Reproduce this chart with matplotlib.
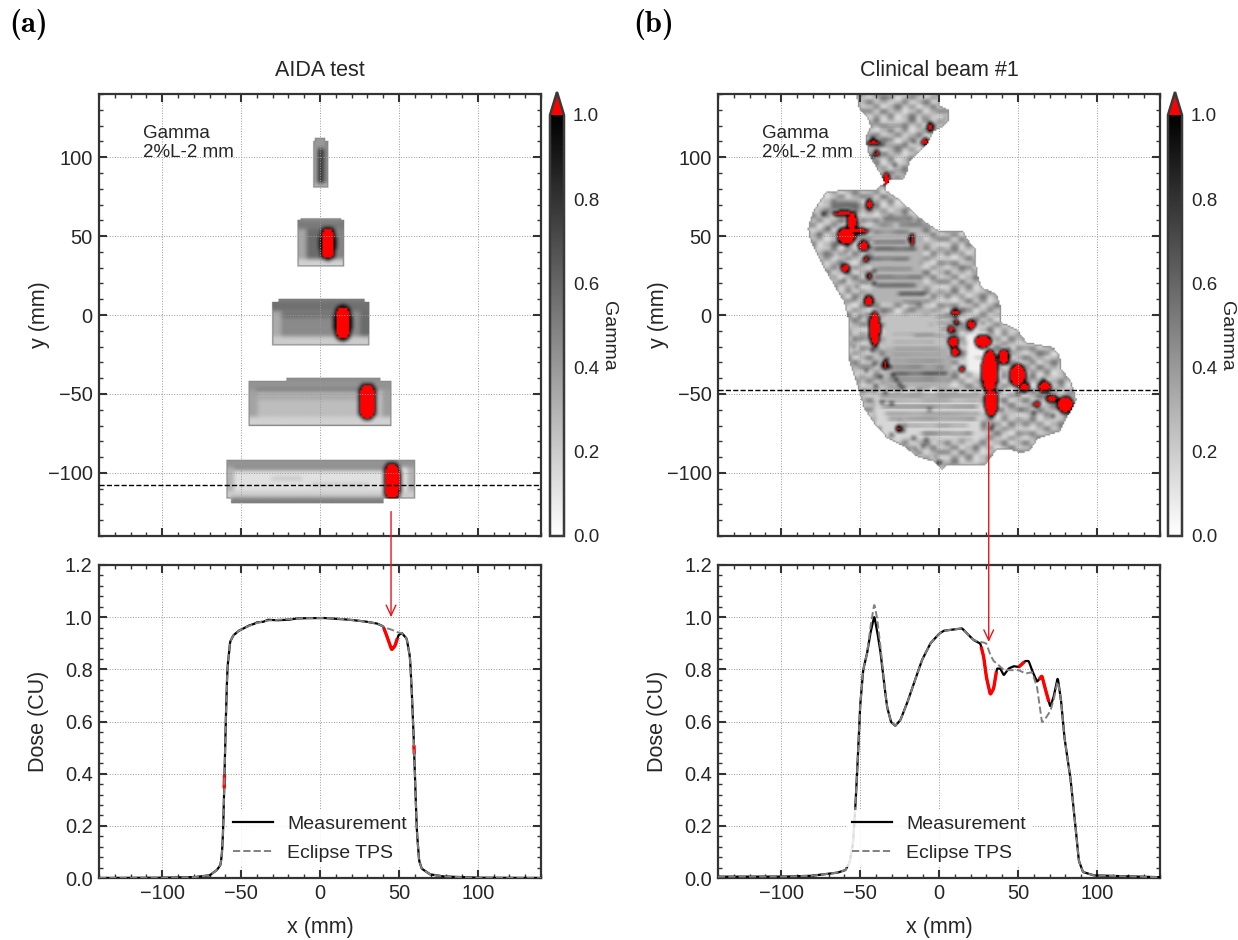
import numpy as np
import matplotlib
matplotlib.use('Agg')
import matplotlib.pyplot as plt
from matplotlib.path import Path
from matplotlib.ticker import MultipleLocator

plt.rcParams['font.family'] = ['Liberation Sans', 'DejaVu Sans']
TXT = '#262626'
SP = '#333333'

# ---------- profile data ----------
a_x = [-140,-100,-80,-70,-65.4,-63,-62,-61.2,-60.6,-59.7,-58.7,-57,-54.9,-51.7,-48,-45,-42.2,-40,-36,-33,-27.4,-20,-15,-10.6,2,10,19,28,35.9,40,42.2,45.4,47.5,49.6,51.7,54.9,57,58,59.1,60.2,61.2,62.7,64.4,69.7,78,99,140]
a_meas = [0,.001,.003,.01,.03,.05,.1,.21,.37,.60,.80,.905,.93,.947,.958,.968,.973,.98,.982,.99,.988,.99,.995,.996,.997,.994,.99,.984,.976,.965,.93,.875,.89,.93,.94,.918,.848,.733,.58,.387,.196,.068,.036,.014,.006,.001,0]
a_tps = [0,.001,.003,.01,.03,.05,.1,.21,.37,.60,.80,.905,.93,.947,.958,.966,.973,.978,.984,.987,.99,.992,.995,.996,.997,.995,.99,.984,.976,.965,.958,.952,.946,.941,.94,.918,.848,.733,.58,.387,.196,.068,.036,.014,.006,.001,0]
a_red = [(40.3,49.0),(-60.75,-60.5),(59.4,59.75)]

b_x = [-140,-100,-81.5,-64.6,-59.3,-56.6,-54.5,-53,-51.5,-50.2,-48.1,-45.6,-43.5,-41,-39.3,-37.2,-35,-32.9,-30.4,-27.7,-24.5,-20.3,-16,-10.8,-5.5,-0.2,3,9.3,14.6,18.8,22,26.2,28.3,30,32.5,34.6,36.7,38.8,41,44.1,47.3,50.5,54.7,56.8,58.9,62.1,65.2,67.3,70.5,72.6,75.2,77.3,79.4,83.2,86.3,88.5,91.2,98,140]
b_meas = [.005,.005,.008,.02,.03,.06,.13,.27,.45,.64,.795,.86,.937,1.005,.95,.873,.758,.656,.598,.583,.605,.669,.745,.835,.899,.935,.948,.953,.957,.931,.912,.899,.848,.771,.703,.726,.803,.803,.777,.803,.812,.809,.832,.832,.797,.752,.775,.726,.656,.694,.769,.682,.541,.387,.208,.068,.023,.01,.003]
b_tps = [.005,.005,.008,.02,.03,.06,.13,.27,.45,.64,.795,.86,.96,1.052,1.0,.895,.758,.656,.598,.583,.605,.669,.745,.835,.899,.935,.948,.953,.957,.931,.912,.905,.903,.899,.855,.832,.822,.81,.797,.797,.797,.797,.784,.786,.79,.733,.596,.61,.64,.682,.758,.682,.541,.387,.208,.068,.023,.01,.003]
b_red = [(26.6,36.4),(50.2,54.2),(63.2,69.6)]

# ---------- AIDA field data ----------
f_x0 = [-4.2,-14.4,-30,-45,-59]
f_x1 = [5.3,15.4,31.2,45,60]
f_y0 = [81,30.4,-19.6,-70,-116]
f_y1 = [110,60,8.5,-41.6,-91.6]
f_core = [.78,.58,.46,.26,.12]
f_top = [.5,.52,.56,.42,.42]
f_bot = [.3,.18,.2,.18,.2]
f_left = [.35,.35,.33,.36,.3]
f_right = [.45,.48,.58,.38,.3]
f_band = [2.5,5.5,6,6,5]
# extra strips: x0, x1, y0, y1, gamma
s_x0 = [-12,-26,-21,-56,-3,-40,-54,-24,-40,-30,-5]
s_x1 = [13,28,38,40,3,36,40,10,30,-12,30]
s_y0 = [60,8.5,-41.6,-119.5,106,-48.5,-98.5,-1,-53,-104,-108]
s_y1 = [61,10,-40,-116,112,-46.5,-96.5,1,-51,-103,-107]
s_val = [.45,.5,.45,.5,.4,.52,.46,.56,.34,.24,.22]
# red areas
ar_x = [5,14.5,30,45.7,3]
ar_y = [45.4,-5,-54.8,-105.3,95]
ar_rx = [3.9,4.4,4.7,4.5,0]
ar_ry = [9.3,10,10.3,10.7,0]

# ---------- clinical beam data ----------
out_x = [-53.6,-53.6,-0.8,0.8,6.3,6.8,3,-3.4,-7.6,-12.9,-18.2,-20.3,-22.4,-30.8,-33.4,-34,-26.6,-18.2,-9.7,-0.2,15.6,18.8,23.6,24.1,27.2,36.7,39.3,39.5,49.4,55.7,72.6,76.8,77.9,84.2,87.4,81,76.8,63.1,57.8,52.6,45.2,36.7,29.3,5.1,1.9,-3.4,-13.9,-22.4,-32.9,-41.4,-47.7,-51.9,-57.2,-57.8,-60.4,-66.7,-74.1,-81.5,-83.2,-80.4,-72,-60.4,-39.3,-34.6,-41.4,-45.6,-46.7,-43.5,-45.6,-50.9]
out_y = [145,139.5,145,132.8,130.3,123.3,119,115.9,107.5,102.2,96.9,89.5,85.7,85.3,82.1,79.6,74.7,67.3,60,53.6,53.2,47.3,42,27.2,17.7,13.5,6.1,-4.4,-8.7,-17.1,-20.3,-25.5,-34,-42.4,-54,-65.7,-74,-78.3,-85.7,-87.8,-85.7,-85.7,-95.2,-95.2,-98.4,-93.1,-89.9,-83.6,-78.3,-68.8,-59.3,-44.5,-28.7,-2.3,8.2,18.8,31.5,46.2,54.7,65.2,77.9,79.6,80,84.2,95.8,103.2,113.8,119,125.4,130.7]
mottle = [[.05,.30,.10,.42,.02,.18,.46,.08,.26,.12,.00],
          [.38,.06,.46,.14,.24,.02,.12,.40,.04,.22,.42],
          [.12,.40,.00,.20,.48,.10,.30,.00,.18,.44,.08],
          [.44,.10,.24,.06,.14,.42,.04,.22,.48,.02,.20],
          [.02,.20,.48,.36,.00,.16,.40,.12,.06,.34,.14],
          [.30,.42,.08,.12,.40,.06,.20,.46,.10,.00,.40],
          [.08,.00,.18,.44,.10,.34,.02,.14,.36,.20,.04],
          [.40,.14,.32,.02,.22,.46,.10,.30,.00,.42,.16],
          [.16,.46,.04,.20,.08,.12,.44,.06,.38,.10,.30]]
# calm zones: x0, x1, y0, y1, gamma
cz_x0 = [-34,-34,18,-40,-42]
cz_x1 = [6,4,32,26,-12]
cz_y0 = [-45,-20,-36,-78,8]
cz_y1 = [-18,0,-12,-49,56]
cz_g = [.32,.24,.06,.16,.3]
# horizontal streaks: x0, x1, y, half thickness, gamma
st_x0 = [-73,-46,-46,-46,-46,-46,-46,-44,-30,-28, -26,-34,-34,-34,-34,-34,-34,-34,-36,-42,-42,-40,-38,-36,-30,-15,-48,-6,20,40,50,-3,-5,-10,-20,8,-18,-40,-30,60,45,-45,-45,-35,-35]
st_x1 = [-46,-14,-16,-10,-14,-12,-6,-10,-4,-6, -10,2,2,6,6,8,8,10,12,30,30,28,30,28,22,25,-30,10,30,60,72,22,9,0,8,20,6,-12,6,78,76,-18,-15,-24,-16]
st_y =  [69,52.6,46.2,42,35.7,29.3,24,18.8,13.5,8.2, 3,-12,-17,-21,-25,-29,-33,-37,-41,-51,-54,-58,-62.5,-65.7,-70,-75,-2,-1,-27,-38,-62,-9,-5,-6,-13,17,3.5,61,57,-29,-35,120,107,97,91]
st_t =  [5,1.2,1.2,1.5,1.2,1.0,1.4,1.8,1.5,1.2, 1.0,1.2,1.0,1.2,1.0,1.2,1.5,1.8,1.3,.8,.9,.8,1.0,.8,.9,1.0,1.0,1.0,1.0,1.0,1.0,1.0,1.0,1.0,.8,1.2,.8,3.5,2.5,.8,.8,1.0,1.5,1.2,1.0]
st_g =  [.75,.75,.85,.95,.9,.75,.85,.9,1.0,.8, .65,.5,.52,.55,.55,.62,.72,.85,.75,.9,.7,.95,.7,.85,.7,.85,.65,.65,.55,.55,.5,.7,.8,.7,.65,.6,.65,.7,.65,.5,.5,.65,.65,.7,.65]
# dark spots: x, y, gamma
sp_x = [-73,-62,-52,-48,-44,-43,-41,-41,-59,-68,-60,-52,-54,-63,-50,-44,-42,-54,-41,-37,-34,-29,-23,-40,-36,-34,-30,-25,-22,-16,-10,-2,0,-44,-38,-20,-8,-23,-30,15,18,28,32,34,44,50,52,60,66,72,80,-18,-8,-4,-10,-12,2,4,-42,-36,-42,-28,-16,-58,33,-26,5,10,-33,-31,-27,-25,-46,-49,-70,-65,-76,-57,22,40,58,70,-6,8,-15]
sp_y = [64,66,58,52,43,36,28,20,40,38,22,18,10,-12,-1,-3,-22,-20,-31,-39,-30,-38,-46,-45,-55,-49,-56,-66,-70,-78,-83,-90,-93.5,-60,-72,-85,-79,-73,-76,3,-8,-5,-35,-70,-22,-50,-60,-62,-41,-64,-68,49,106,118,125,101,130,125,112,108,100,95,110,70,-72,80,75,40,-28,-33,-41,-44,-35,-15,55,45,50,30,28,-60,-28,-50,-60,-84,-85]
sp_g = [1.0,.8,.8,.95,.85,.85,.8,.9,.55,.55,.6,.55,.6,.65,.65,.75,.9,.55,.75,.85,.9,.95,.85,.75,.75,.7,.7,.5,.6,.7,.7,.5,1.0,.55,.6,.65,.75,.8,.65,.75,.7,.5,.6,.8,.8,.85,.7,.85,.8,.75,.5,.85,.7,.6,.5,.8,.4,.45,.95,.85,.85,.7,.7,.5,.9,.6,.4,.5,.85,.9,.9,.85,.7,.6,.7,.75,.65,.65,.5,.6,.55,.6,.55,.5,.6]
# red blobs: x, y, rx, ry
rb_x = [-58.7,-55.1,-60,-50.9,-47.7,-44.1,-17.1,-59.3,-46.2,-44.1,-44.5,-40.7,-34,10.3,11,7.6,20.3,9.3,10.3,14.6,27.9,32.1,33.1,41,49.8,54,66.9,71.6,80,62,-25.5,-5.5,-8.7,-41.4,-39.3,-33.4]
rb_y = [50,58.9,64.2,53.2,43.7,69.9,47.9,29.8,35.3,24.5,8.9,-8.7,-31.5,1.5,-4.9,-9.3,-6.1,-17.1,-23.4,-34.4,-16.7,-36.1,-55,-26.6,-38.2,-45.6,-45.6,-53,-56.8,-56.6,-72,119,109.6,109.1,102.2,86]
rb_rx = [5,2.5,6.5,5,2.5,1.3,.9,2,1,1,2.5,2.8,1,2,1,1.5,2.2,2.5,2,1,4.5,4.5,3.5,3,4.5,2.5,3.2,3,4.5,1.5,1,1.5,1.5,3,1,1.5]
rb_ry = [5,5,1,1.2,2.5,2.5,3,2,1,1,2.5,10.5,2,1.5,1,1.5,2.2,3,2.5,1,3.5,13.5,9,4,6.5,2.5,3,1.5,4.5,1,1,2,1.5,1,1,3.5]

# ---------- image helpers ----------
gx = np.arange(-145, 145.5, 1.0)
gy = np.arange(-145, 145.5, 1.0)
XX, YY = np.meshgrid(gx, gy)

def rim(mask):
    m = mask.copy()
    for ax_, s in ((0,1),(0,-1),(1,1),(1,-1)):
        m &= np.roll(mask, s, axis=ax_)
    return mask & ~m

def blur(G, mask, n):
    k = np.ones(n)/n
    f = lambda a: np.apply_along_axis(lambda v: np.convolve(v, k, mode='same'), 1,
                                      np.apply_along_axis(lambda v: np.convolve(v, k, mode='same'), 0, a))
    num = f(np.where(mask, G, 0.0))
    den = f(mask.astype(float))
    out = np.full(G.shape, np.nan)
    out[mask] = num[mask]/den[mask]
    return out

def add_halo(G, xs, ys, rxs, rys, p, halo, level):
    for cx, cy, rx, ry in zip(xs, ys, rxs, rys):
        if rx == 0:
            continue
        dh = np.abs((XX-cx)/(rx+halo))**p + np.abs((YY-cy)/(ry+halo))**p
        G[dh < 1] = level
    return G

def add_red(G, xs, ys, rxs, rys, p):
    for cx, cy, rx, ry in zip(xs, ys, rxs, rys):
        if rx == 0:
            continue
        d = np.abs((XX-cx)/rx)**p + np.abs((YY-cy)/ry)**p
        G[d < 1] = 1.6
    return G

def aida_map():
    G = np.full(XX.shape, np.nan)
    for i in range(5):
        x0, x1, y0, y1 = f_x0[i], f_x1[i], f_y0[i], f_y1[i]
        box = (XX >= x0) & (XX <= x1) & (YY >= y0) & (YY <= y1)
        b = f_band[i]
        G[box] = f_core[i]
        G[box & (XX < x0+b)] = f_left[i]
        G[box & (XX > x1-b)] = f_right[i]
        G[box & (YY > y1-b)] = f_top[i]
        G[box & (YY < y0+b)] = f_bot[i]
    for x0, x1, y0, y1, v in zip(s_x0, s_x1, s_y0, s_y1, s_val):
        G[(XX >= x0) & (XX <= x1) & (YY >= y0) & (YY <= y1)] = v
    m = ~np.isnan(G)
    G = add_halo(G, ar_x, ar_y, ar_rx, ar_ry, 3, 1.2, 1.0)
    G = blur(G, m, 3)
    G = blur(G, m, 3)
    G[rim(m)] = np.maximum(G[rim(m)], .45)
    return add_red(G, ar_x, ar_y, ar_rx, ar_ry, 3)

def clinical_map():
    path = Path(np.column_stack([out_x, out_y]))
    mask = path.contains_points(np.column_stack([XX.ravel(), YY.ravel()])).reshape(XX.shape)
    T = np.array(mottle)
    ix = (np.floor((XX+145)/4.5).astype(int)) % T.shape[1]
    iy = (np.floor((YY+145)/3.0).astype(int)) % T.shape[0]
    G = .10 + T[iy, ix]
    for x0, x1, y0, y1, g in zip(cz_x0, cz_x1, cz_y0, cz_y1, cz_g):
        G[(XX >= x0) & (XX <= x1) & (YY >= y0) & (YY <= y1)] = g
    G = blur(G, np.ones_like(mask), 3)
    jx = (np.floor((XX+145)/9.0).astype(int)) % T.shape[1]
    jy = (np.floor((YY+145)/2.0).astype(int)) % T.shape[0]
    brk = blur(1 - 1.1*T[jy, jx], np.ones_like(mask), 5)
    for x0, x1, y, t, g in zip(st_x0, st_x1, st_y, st_t, st_g):
        fall = np.exp(-((YY-y)/t)**2) * np.clip((XX-x0)/6, 0, 1) * np.clip((x1-XX)/6, 0, 1) * brk
        G = np.maximum(G, g*fall)
    for x, y, g in zip(sp_x, sp_y, sp_g):
        G = np.maximum(G, g*np.exp(-((XX-x)/2.2)**2 - ((YY-y)/1.8)**2))
    G = add_halo(G, rb_x, rb_y, rb_rx, rb_ry, 2, 1.1, 1.0)
    G = blur(G, mask, 3)
    G[rim(mask)] = np.maximum(G[rim(mask)], .42)
    G = add_red(G, rb_x, rb_y, rb_rx, rb_ry, 2)
    G[~mask] = np.nan
    return G

def smooth(xs, ys, grid, n=7):
    fine = np.interp(grid, xs, ys)
    pad = np.r_[np.full(n, fine[0]), fine, np.full(n, fine[-1])]
    return np.convolve(pad, np.ones(n)/n, mode='same')[n:-n]

cmap = plt.get_cmap('gray_r').copy()
cmap.set_over('#ff0000')
cmap.set_bad((1, 1, 1, 0))

W, H = 1238., 940.
fig = plt.figure(figsize=(W/100, H/100), dpi=100, facecolor='white')
def add_ax(l, t, r, b):
    return fig.add_axes([l/W, 1-b/H, (r-l)/W, (b-t)/H])

def style(ax, ymaj, ymin):
    ax.xaxis.set_major_locator(MultipleLocator(50))
    ax.xaxis.set_minor_locator(MultipleLocator(10))
    ax.yaxis.set_major_locator(MultipleLocator(ymaj))
    ax.yaxis.set_minor_locator(MultipleLocator(ymin))
    ax.tick_params(which='major', direction='in', top=True, right=True, length=5.5, width=1.5,
                   color=SP, labelsize=14.4, labelcolor=TXT, pad=4.5)
    ax.tick_params(which='minor', direction='in', top=True, right=True, length=3, width=1.0, color=SP)
    ax.grid(True, which='major', ls=':', lw=.7, color='#999999')
    for s in ax.spines.values():
        s.set_linewidth(1.6)
        s.set_color(SP)

def panel(left, title, G, dash_y, cb_left, xp, meas, tps, reds, arrow_x, arrow_start, arrow_end, tag, tag_x):
    right = left + 442
    ax = add_ax(left, 94, right, 536)
    im = ax.imshow(G, origin='lower', extent=[gx[0]-.5, gx[-1]+.5, gy[0]-.5, gy[-1]+.5], cmap=cmap,
                   vmin=0, vmax=1, interpolation='bilinear', interpolation_stage='rgba', zorder=0)
    ax.set_xlim(-140, 140); ax.set_ylim(-140, 140)
    ax.set_aspect('auto')
    style(ax, 50, 10)
    ax.tick_params(labelbottom=False)
    ax.axhline(dash_y, color='black', ls='--', lw=1.0, zorder=3)
    ax.set_ylabel('y (mm)', fontsize=15.5, color=TXT, va='center')
    ax.yaxis.set_label_coords(-.1335, .5)
    fig.text((left+221)/W, 1-70/H, title, fontsize=15.5, color=TXT, ha='center', va='center')
    ax.text(-112, 109, 'Gamma\n2%L-2 mm', fontsize=13.5, color=TXT, va='center', ha='left', linespacing=1.15, zorder=5)

    cax = add_ax(cb_left, 92, cb_left+14, 536)
    cb = fig.colorbar(im, cax=cax, extend='max', extendfrac=.0546, extendrect=False)
    cb.set_ticks([0, .2, .4, .6, .8, 1.0])
    cb.set_ticklabels(['0.0', '0.2', '0.4', '0.6', '0.8', '1.0'])
    cb.ax.tick_params(length=0, labelsize=13.5, labelcolor=TXT, pad=6.5)
    cb.outline.set_linewidth(1.8)
    cb.outline.set_edgecolor('#3a3a3a')
    cb.set_label('Gamma', rotation=270, fontsize=14, color=TXT, va='center')
    cb.ax.yaxis.set_label_coords(4.15, .475)

    bx = add_ax(left, 565, right, 878)
    xs = np.array(xp); ms = np.array(meas); ts = np.array(tps)
    grid = np.arange(-140, 140.05, .1)
    ms_f = smooth(xs, ms, grid); ts_f = smooth(xs, ts, grid)
    bx.plot(grid, ms_f, color='black', lw=1.6, label='Measurement', zorder=3)
    for a, b in reds:
        keep = (grid >= a) & (grid <= b)
        bx.plot(grid[keep], ms_f[keep], color='#ff0000', lw=2.4, solid_capstyle='butt', zorder=3.2)
    bx.plot(grid, ts_f, color='#808080', ls='--', lw=1.4, label='Eclipse TPS', zorder=3.5)
    bx.set_xlim(-140, 140); bx.set_ylim(0, 1.2)
    style(bx, .2, .04)
    bx.set_xlabel('x (mm)', fontsize=15.5, color=TXT, va='center')
    bx.xaxis.set_label_coords(.5, -.157)
    bx.set_ylabel('Dose (CU)', fontsize=15.5, color=TXT, va='center')
    bx.yaxis.set_label_coords(-.138, .5)
    leg = bx.legend(loc='center', bbox_to_anchor=(.5, .126), frameon=True, framealpha=.85, edgecolor='none',
                    fancybox=False, fontsize=14, handlelength=2.05, handletextpad=.72, labelspacing=.55,
                    borderpad=.3, borderaxespad=0, labelcolor=TXT)
    leg.set_zorder(4)
    bx.annotate('', xy=(arrow_x, arrow_end), xycoords=bx.transData,
                xytext=(arrow_x, arrow_start), textcoords=ax.transData,
                arrowprops=dict(arrowstyle='->,head_length=.75,head_width=.35', color='#e8141c', lw=1.0,
                                shrinkA=0, shrinkB=0), annotation_clip=False, zorder=10)
    fig.text(tag_x/W, 1-25/H, tag, fontsize=22, family='cmb10', color='black', va='center', ha='left')

panel(99, 'AIDA test', aida_map(), -107.5, 550, a_x, a_meas, a_tps, a_red, 45, -124.5, 1.0, '(a)', 9)
panel(718, 'Clinical beam #1', clinical_map(), -47.5, 1168, b_x, b_meas, b_tps, b_red, 31.5, -68, .905, '(b)', 633)

fig.savefig('out.png', dpi=100, facecolor='white')
